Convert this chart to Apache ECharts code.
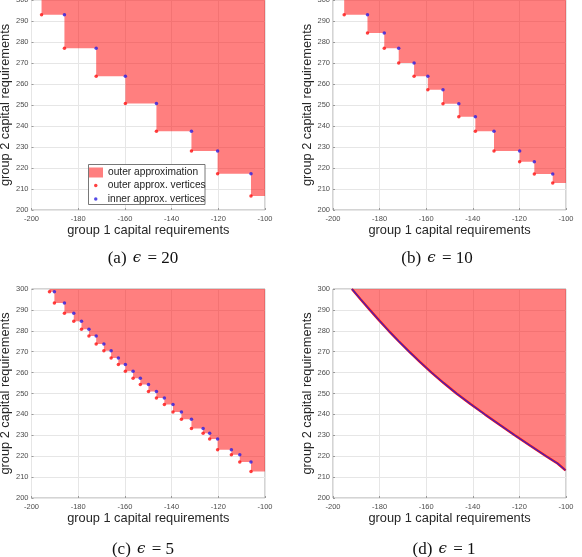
<!DOCTYPE html>
<html>
<head>
<meta charset="utf-8">
<script src="https://cdn.jsdelivr.net/npm/echarts@6/dist/echarts.min.js"></script>
<style>
    html, body { margin: 0; padding: 0; background: #fff; }
    #chart { width: 582px; height: 557px; }
</style>
</head>
<body>
<div id="chart"></div>
<script>
    // staircase corners:
    // stepX = x of each vertical step, stepY = y of each horizontal step
    var stepXA = [-195.7, -185.9, -172.3, -159.8, -146.5, -131.5, -120.3, -106.0];
    var stepYA = [293.0, 277.0, 263.7, 250.7, 237.5, 228.1, 217.3, 206.7];

    var stepXB = [-195.2, -185.2, -178.0, -171.8, -165.2, -159.3, -152.8, -146.0, -138.9, -130.9, -119.9, -113.6, -105.7];
    var stepYB = [293.0, 284.3, 277.0, 270.0, 263.7, 257.3, 250.6, 244.4, 237.5, 228.1, 223.0, 217.1, 212.9];

    var stepXC = [-192.3, -190.2, -185.9, -181.9, -178.6, -175.4, -172.3, -169.0, -165.9, -162.8, -159.8, -156.5,
                  -153.4, -149.9, -146.5, -143.1, -139.4, -135.8, -131.5, -126.5, -123.7, -120.3, -114.4, -110.8, -106.0];
    var stepYC = [298.7, 293.3, 288.4, 284.6, 280.7, 277.5, 273.7, 270.5, 267.0, 263.9, 260.7, 257.3,
                  254.3, 251.0, 247.9, 244.7, 241.2, 237.7, 233.3, 231.0, 228.2, 223.1, 220.7, 217.2, 212.7];

    // epsilon = 1: vertices are so dense they read as a curve
    var curveD = [[-191.9, 300], [-188.1, 295], [-184.2, 290], [-180.2, 285], [-176.1, 280], [-171.8, 275],
                  [-167.3, 270], [-162.6, 265], [-157.7, 260], [-152.5, 255], [-147.0, 250], [-141.0, 245],
                  [-134.8, 240], [-128.5, 235], [-122.0, 230], [-115.3, 225], [-108.5, 220], [-103.6, 216.5],
                  [-100.2, 213.2]];

    var captionTags = ['(a)', '(b)', '(c)', '(d)'];
    var epsilons = ['20', '10', '5', '1'];

    var XMIN = -200, XMAX = -100, YMIN = 200, YMAX = 300;
    var NAME_FILL = 'outer approximation';
    var NAME_OUT = 'outer approx. vertices';
    var NAME_IN = 'inner approx. vertices';

    var panels = [
        { left: 31.5, top: 0, width: 233.5, height: 210, yGap: 15, cx: 138, cy: 245 },
        { left: 333, top: 0, width: 233, height: 210, yGap: 17.5, cx: 432, cy: 245 },
        { left: 31.5, top: 289, width: 233.5, height: 209, yGap: 17, cx: 138, cy: 536 },
        { left: 333, top: 289, width: 233, height: 209, yGap: 17, cx: 439, cy: 536 }
    ];

    function outerPts(xs, ys) {
        return xs.map(function (x, i) { return [x, ys[i]]; });
    }
    function innerPts(xs, ys) {
        return xs.slice(1).map(function (x, i) { return [x, ys[i]]; });
    }
    function stairPath(xs, ys) {
        var p = [];
        for (var i = 0; i < xs.length; i++) {
            p.push([xs[i], ys[i]]);
            if (i < xs.length - 1) p.push([xs[i + 1], ys[i]]);
        }
        p.push([XMAX, ys[ys.length - 1]]);
        return p;
    }

    var chart = echarts.init(document.getElementById('chart'), null, { renderer: 'canvas' });

    var grids = [], xAxes = [], yAxes = [], series = [], titles = [];
    var steps = [[stepXA, stepYA], [stepXB, stepYB], [stepXC, stepYC]];

    panels.forEach(function (p, k) {
        grids.push({
            left: p.left, top: p.top, width: p.width, height: p.height,
            show: true, borderColor: '#a8a8a8', borderWidth: 1,
            containLabel: false, outerBoundsMode: 'none'
        });
        xAxes.push({
            type: 'value', gridIndex: k, min: XMIN, max: XMAX, interval: 20,
            name: 'group 1 capital requirements', nameLocation: 'middle', nameGap: 14,
            nameTextStyle: { fontSize: 12.8, color: '#262626', fontFamily: 'Liberation Sans, Arial, sans-serif' },
            axisLine: { show: false },
            axisTick: { show: true, inside: true, length: 2, lineStyle: { color: '#999' } },
            axisLabel: { fontSize: 7.5, color: '#4d4d4d', margin: 4.5, showMinLabel: true, showMaxLabel: true,
                         fontFamily: 'Liberation Sans, Arial, sans-serif' },
            splitLine: { show: true, lineStyle: { color: '#e6e6e6', width: 1 } }
        });
        yAxes.push({
            type: 'value', gridIndex: k, min: YMIN, max: YMAX, interval: 10,
            name: 'group 2 capital requirements', nameLocation: 'middle', nameGap: p.yGap,
            nameTextStyle: { fontSize: 12.8, color: '#262626', fontFamily: 'Liberation Sans, Arial, sans-serif' },
            axisLine: { show: false },
            axisTick: { show: true, inside: true, length: 2, lineStyle: { color: '#999' } },
            axisLabel: { fontSize: 7.5, color: '#4d4d4d', margin: 3, showMinLabel: true, showMaxLabel: true,
                         fontFamily: 'Liberation Sans, Arial, sans-serif' },
            splitLine: { show: true, lineStyle: { color: '#e6e6e6', width: 1 } }
        });

        var fillPath;
        if (k < 3) {
            fillPath = stairPath(steps[k][0], steps[k][1]);
        } else {
            fillPath = curveD.concat([[XMAX, curveD[curveD.length - 1][1]]]);
        }
        series.push({
            name: NAME_FILL, type: 'line', xAxisIndex: k, yAxisIndex: k,
            data: fillPath, symbol: 'none', silent: true,
            color: 'rgba(255,0,0,0.5)',
            lineStyle: { width: 0 },
            areaStyle: { origin: 'end', color: 'rgba(255,0,0,0.5)', opacity: 1 },
            z: 2
        });

        if (k < 3) {
            series.push({
                name: NAME_OUT, type: 'scatter', xAxisIndex: k, yAxisIndex: k,
                data: outerPts(steps[k][0], steps[k][1]),
                symbolSize: 3.5, itemStyle: { color: '#ff1010' }, z: 3
            });
            series.push({
                name: NAME_IN, type: 'scatter', xAxisIndex: k, yAxisIndex: k,
                data: innerPts(steps[k][0], steps[k][1]),
                symbolSize: 3.5, itemStyle: { color: '#2a1ee0' }, z: 4
            });
        } else {
            series.push({
                name: NAME_OUT, type: 'line', xAxisIndex: k, yAxisIndex: k,
                data: curveD, symbol: 'none', color: '#ff1010',
                lineStyle: { width: 2.4, color: '#ff1010' }, z: 3
            });
            series.push({
                name: NAME_IN, type: 'line', xAxisIndex: k, yAxisIndex: k,
                data: curveD, symbol: 'none', color: '#4a2cb8',
                lineStyle: { width: 1.2, color: '#3a24c0' }, z: 4
            });
        }

        titles.push({
            left: p.cx, top: p.cy, textAlign: 'center',
            text: captionTags[k] + ' {e|\u03f5} = ' + epsilons[k],
            textStyle: {
                fontFamily: 'Liberation Serif, DejaVu Serif, serif', fontSize: 17, fontWeight: 'normal', color: '#111',
                rich: { e: { fontFamily: 'DejaVu Serif, serif', fontStyle: 'italic', fontSize: 15, color: '#111', padding: [0, 2, 0, 2] } }
            }
        });
    });

    var legendFont = { fontSize: 10.2, color: '#222', fontFamily: 'Liberation Sans, Arial, sans-serif' };

    var option = {
        animation: false,
        backgroundColor: '#fff',
        title: titles,
        grid: grids,
        xAxis: xAxes,
        yAxis: yAxes,
        legend: [{
            data: [{ name: NAME_FILL, icon: 'rect' }],
            left: 89, top: 167.5, itemWidth: 14, itemHeight: 10,
            selectedMode: false, textStyle: legendFont, z: 12, padding: 0
        }, {
            data: [{ name: NAME_OUT, icon: 'circle' }, { name: NAME_IN, icon: 'circle' }],
            orient: 'vertical', left: 94, top: 178.8, itemWidth: 14, itemHeight: 3.5, itemGap: 0,
            selectedMode: false, textStyle: Object.assign({ lineHeight: 13.4 }, legendFont), z: 12, padding: 0
        }],
        graphic: [{
            type: 'rect', z: 10,
            shape: { x: 88.5, y: 164.5, width: 116.5, height: 40 },
            style: { fill: '#fff', stroke: '#555', lineWidth: 0.8 }
        }],
        series: series
    };

    chart.setOption(option);
</script>
</body>
</html>
